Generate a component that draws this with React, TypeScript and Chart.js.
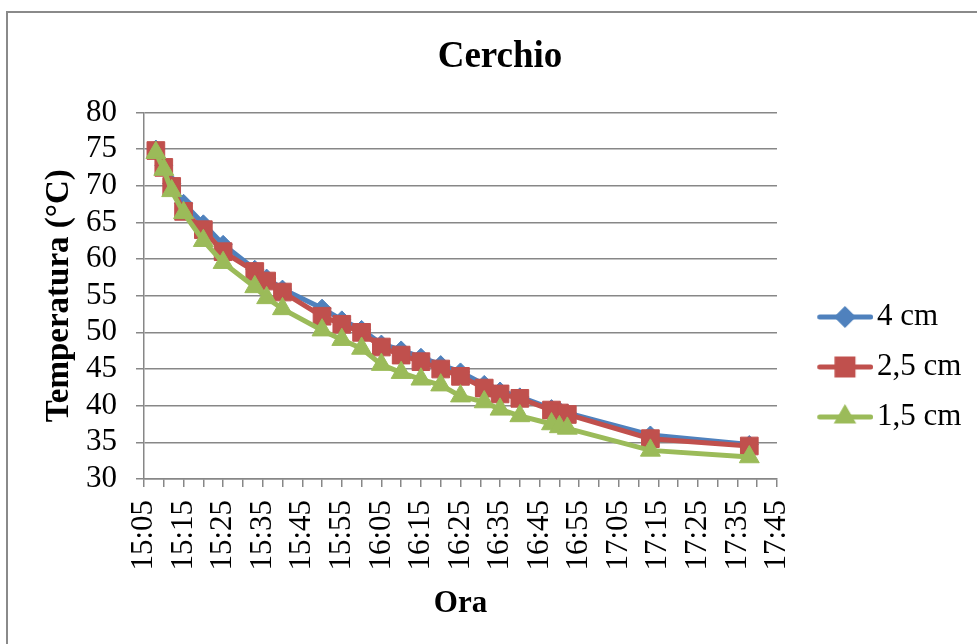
import React, { useEffect, useRef } from 'react';
import { Chart, registerables } from 'chart.js';

Chart.register(...registerables);

// ---- Data ----
const times = [
  '15:08', '15:10', '15:12', '15:15', '15:20', '15:25', '15:33', '15:36', '15:40',
  '15:50', '15:55', '16:00', '16:05', '16:10', '16:15', '16:20', '16:25', '16:31',
  '16:35', '16:40', '16:48', '16:50', '16:52', '17:13', '17:38',
];
const temp4cm = [
  75.0, 72.8, 70.3, 67.6, 64.8, 62.0, 58.6, 57.4, 55.9,
  53.3, 51.7, 50.4, 48.4, 47.6, 46.6, 45.6, 44.6, 42.9,
  42.0, 41.2, 39.6, 39.3, 39.0, 36.0, 34.7,
];
const temp25cm = [
  74.8, 72.5, 69.9, 66.5, 64.0, 61.0, 58.3, 57.0, 55.5,
  52.2, 51.1, 50.0, 48.0, 46.9, 46.0, 45.0, 44.0, 42.4,
  41.6, 41.0, 39.4, 39.0, 38.8, 35.5, 34.5,
];
const temp15cm = [
  74.5, 72.2, 69.3, 66.3, 62.5, 59.5, 56.2, 54.7, 53.2,
  50.3, 49.0, 47.8, 45.6, 44.5, 43.6, 42.8, 41.3, 40.5,
  39.5, 38.6, 37.5, 37.1, 36.9, 33.9, 33.0,
];
const seriesNames = ['4 cm', '2,5 cm', '1,5 cm'];
const xTickLabels = [
  '15:05', '15:15', '15:25', '15:35', '15:45', '15:55', '16:05', '16:15', '16:25',
  '16:35', '16:45', '16:55', '17:05', '17:15', '17:25', '17:35', '17:45',
];
const yMin = 30;
const yMax = 80;
const yStep = 5;

const chartTitle = 'Cerchio';
const xTitle = 'Ora';
const yTitle = 'Temperatura (°C)';

// ---- Styles ----
const FONT = "'Liberation Serif', 'Times New Roman', serif";
const GRID = '#878787';
const COLORS = ['#4F81BD', '#C0504D', '#9BBB59'];
const STYLES: any[] = ['rectRot', 'rect', 'triangle'];
const RADII = [9, 12.5, 11.5];

const toMin = (s: string) => {
  const [h, m] = s.split(':').map(Number);
  return h * 60 + m;
};

function makeLegendImage(color: string, style: string) {
  const c = document.createElement('canvas');
  c.width = 89;
  c.height = 30;
  const ctx = c.getContext('2d')!;
  ctx.strokeStyle = color;
  ctx.lineWidth = 5;
  ctx.lineCap = 'round';
  ctx.beginPath();
  ctx.moveTo(35.5, 15);
  ctx.lineTo(86.5, 15);
  ctx.stroke();
  ctx.fillStyle = color;
  const cx = 60.75;
  const cy = 15;
  ctx.beginPath();
  if (style === 'rectRot') {
    const r = 11;
    ctx.moveTo(cx - r, cy);
    ctx.lineTo(cx, cy - r);
    ctx.lineTo(cx + r, cy);
    ctx.lineTo(cx, cy + r);
  } else if (style === 'rect') {
    const h = 10.5;
    ctx.rect(cx - h, cy - h, 2 * h, 2 * h);
  } else {
    const r = 13;
    ctx.moveTo(cx, cy - r);
    ctx.lineTo(cx + r * 0.866, cy + r / 2);
    ctx.lineTo(cx - r * 0.866, cy + r / 2);
  }
  ctx.closePath();
  ctx.fill();
  return c;
}

const framePlugin = {
  id: 'frame',
  beforeDraw(chart: any) {
    const ctx = chart.ctx;
    ctx.save();
    ctx.fillStyle = '#ffffff';
    ctx.fillRect(0, 0, chart.width, chart.height);
    ctx.strokeStyle = '#8a8a8a';
    ctx.lineWidth = 2;
    ctx.beginPath();
    ctx.moveTo(7, chart.height + 2);
    ctx.lineTo(7, 12);
    ctx.lineTo(chart.width + 2, 12);
    ctx.stroke();
    ctx.restore();
  },
};

export default function App() {
  const ref = useRef<HTMLCanvasElement | null>(null);

  useEffect(() => {
    if (!ref.current) return;
    const series = [temp4cm, temp25cm, temp15cm];
    const legendImages = COLORS.map((c, i) => makeLegendImage(c, STYLES[i]));
    const xs = times.map(toMin);

    const chart = new Chart(ref.current, {
      type: 'line',
      data: {
        datasets: series.map((vals, i) => ({
          label: seriesNames[i],
          data: vals.map((v, j) => ({ x: xs[j], y: v })),
          borderColor: COLORS[i],
          backgroundColor: COLORS[i],
          borderWidth: 5,
          pointStyle: STYLES[i],
          pointRadius: RADII[i],
          pointBackgroundColor: COLORS[i],
          pointBorderColor: COLORS[i],
          pointBorderWidth: 1,
          tension: 0,
          fill: false,
          order: 3 - i,
        })),
      },
      options: {
        animation: false,
        responsive: false,
        devicePixelRatio: 1,
        events: [],
        layout: { padding: { left: 28, right: 5, top: 0, bottom: 0 } },
        plugins: {
          title: {
            display: true,
            text: chartTitle,
            color: '#000',
            font: { family: FONT, size: 37, weight: 'bold' },
            padding: { top: 35, bottom: 33 },
          },
          legend: {
            position: 'right',
            title: {
              display: true,
              text: ' ',
              font: { size: 10 },
              padding: { top: 78, bottom: 0 },
            },
            labels: {
              usePointStyle: true,
              pointStyleWidth: 65.5,
              padding: 19,
              color: '#000',
              font: { family: FONT, size: 31 },
              generateLabels: (ch: any) => {
                const items = Chart.defaults.plugins.legend.labels.generateLabels(ch);
                return items
                  .slice()
                  .sort((a: any, b: any) => a.datasetIndex - b.datasetIndex)
                  .map((it: any) => ({ ...it, pointStyle: legendImages[it.datasetIndex] }));
              },
            },
          },
          tooltip: { enabled: false },
        },
        scales: {
          x: {
            type: 'linear',
            min: toMin(xTickLabels[0]),
            max: toMin(xTickLabels[xTickLabels.length - 1]),
            afterFit: (scale: any) => {
              scale.paddingRight = 200;
            },
            ticks: {
              stepSize: 5,
              autoSkip: false,
              minRotation: 90,
              maxRotation: 90,
              padding: 13,
              color: '#000',
              font: { family: FONT, size: 31 },
              callback: (value: any) => {
                const lbl = xTickLabels.find((l) => toMin(l) === Number(value));
                return lbl ?? '';
              },
            },
            grid: { drawOnChartArea: false, color: GRID, lineWidth: 1.5, tickLength: 8 },
            border: { color: GRID, width: 1.5 },
            title: {
              display: true,
              text: xTitle,
              color: '#000',
              font: { family: FONT, size: 31, weight: 'bold' },
              padding: { top: 1.8, bottom: 21.4 },
            },
          },
          y: {
            min: yMin,
            max: yMax,
            ticks: {
              stepSize: yStep,
              autoSkip: false,
              padding: 19,
              color: '#000',
              font: { family: FONT, size: 31 },
            },
            grid: { color: GRID, lineWidth: 1.5, tickLength: 8 },
            border: { color: GRID, width: 1.5 },
            title: {
              display: true,
              text: yTitle,
              color: '#000',
              font: { family: FONT, size: 33, weight: 'bold' },
              padding: { top: 11.2, bottom: -11.8 },
            },
          },
        },
      } as any,
      plugins: [framePlugin],
    });

    return () => chart.destroy();
  }, []);

  return (
    <div style={{ position: 'absolute', left: 0, top: 0, width: 977, height: 644, overflow: 'hidden', background: '#fff' }}>
      <canvas ref={ref} width={977} height={644} style={{ display: 'block' }} />
    </div>
  );
}
